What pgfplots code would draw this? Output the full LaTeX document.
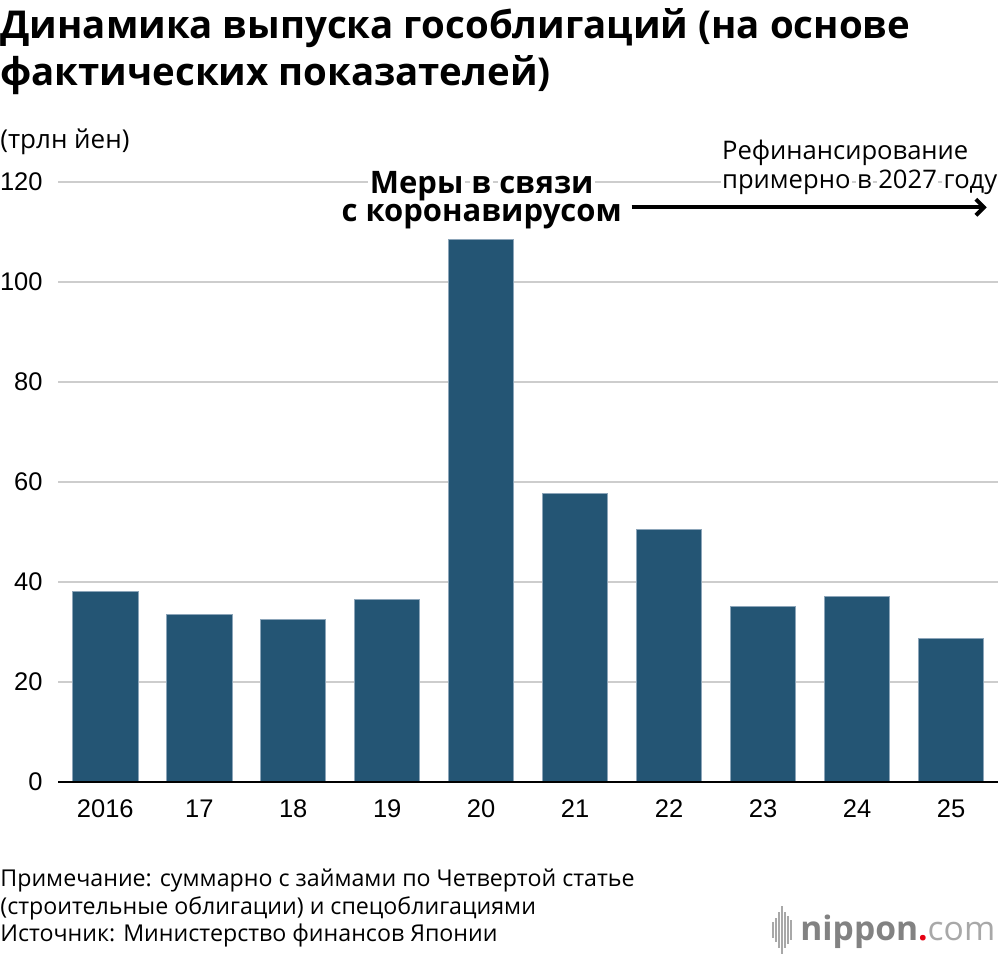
\documentclass[border=0pt]{standalone}
\usepackage{fontspec}
\setmainfont{Open Sans}
\newfontfamily\tickfont{Liberation Sans}
\usepackage{pgfplots}
\pgfplotsset{compat=1.18}
\usetikzlibrary{arrows.meta}
\definecolor{barc}{RGB}{36,85,116}
\definecolor{barline}{RGB}{140,165,185}
\definecolor{gridc}{RGB}{205,205,205}
\definecolor{logogrey}{RGB}{130,130,130}
\definecolor{logored}{RGB}{230,0,18}
\newsavebox\hwbox
\newcommand\hw[1]{\sbox\hwbox{#1}\rlap{\hspace{-0.8pt}\textcolor{white}{\rule[\dimexpr-\dp\hwbox-0.8pt\relax]{\dimexpr\wd\hwbox+1.6pt\relax}{\dimexpr\ht\hwbox+\dp\hwbox+1.6pt\relax}}}\usebox\hwbox}
\begin{document}
\begin{tikzpicture}
\useasboundingbox (0,0) rectangle (500pt,-477pt);
\begin{axis}[
  at={(29.15pt,-390.85pt)}, anchor=south west,
  scale only axis, width=469.85pt, height=300pt,
  xmin=-0.5, xmax=9.5, ymin=0, ymax=120,
  axis line style={draw=none},
  ytick={0,20,...,120},
  ymajorgrids, grid style={gridc, line width=1pt},
  major tick length=0pt,
  xtick={0,...,9},
  xticklabels={2016,17,18,19,20,21,22,23,24,25},
  tick label style={font=\tickfont\fontsize{12.75}{14}\selectfont},
  /pgf/number format/assume math mode=true,
  yticklabel style={anchor=east, inner sep=0pt, xshift=-7.65pt},
  xticklabel style={anchor=north, inner sep=0pt, yshift=-9pt},
  clip=false,
]
\addplot[ybar, bar width=0.695, fill=barc, draw=barline, line width=0.4pt]
  coordinates {(0,38.0) (1,33.5) (2,32.4) (3,36.5) (4,108.5) (5,57.6) (6,50.4) (7,35.0) (8,37.1) (9,28.6)};
\draw[black, line width=1pt] (axis cs:-0.5,0) -- (axis cs:9.5,0);
\end{axis}
% title
\node[anchor=base west, inner sep=0pt, font=\bfseries\fontsize{19.2}{23}\selectfont] at (0pt,-19pt) {Динамика выпуска гособлигаций (на основе};
\node[anchor=base west, inner sep=0pt, font=\bfseries\fontsize{19.2}{23}\selectfont] at (0pt,-42.5pt) {фактических показателей)};
\node[anchor=base west, inner sep=0pt, font=\fontsize{13}{15}\selectfont] at (0pt,-74pt) {(трлн йен)};
% annotations
\node[anchor=base, inner sep=0pt, align=center, font=\bfseries\fontsize{15.5}{13}\selectfont] at (240.85pt,-110.85pt) {\hw{Меры} \hw{в} \hw{связи}\\с коронавирусом};
\node[anchor=base west, inner sep=0pt, align=left, font=\fontsize{12.8}{12.5}\selectfont] at (360.85pt,-94.15pt) {Рефинансирование\\\hw{примерно} \hw{в} \hw{2027} \hw{году}};
\draw[line width=2pt, -{Straight Barb[length=4pt,width=8pt]}] (315.85pt,-103.65pt) -- (493.35pt,-103.65pt);
% notes
\node[anchor=base west, inner sep=0pt, font=\fontsize{11.6}{13}\selectfont] at (0pt,-443.35pt) {Примечание: суммарно с займами по Четвертой статье};
\node[anchor=base west, inner sep=0pt, font=\fontsize{11.6}{13}\selectfont] at (0pt,-457pt) {(строительные облигации) и спецоблигациями};
\node[anchor=base west, inner sep=0pt, font=\fontsize{11.6}{13}\selectfont] at (0pt,-470.85pt) {Источник: Министерство финансов Японии};
% logo
\foreach \xx/\hh in {386.5/4,388/6,389.5/9,391/12,392.5/9,394/7,395.5/5}{
  \draw[logogrey!70, line width=0.6pt] (\xx pt,-465pt+\hh pt) -- (\xx pt,-465pt-\hh pt);
}
\node[anchor=base west, inner sep=0pt, font=\fontsize{16.8}{18}\selectfont] at (400pt,-470pt) {\textcolor{logogrey}{\bfseries nippon}\textcolor{logored}{\bfseries .}\textcolor{logogrey!70}{com}};
\end{tikzpicture}
\end{document}
